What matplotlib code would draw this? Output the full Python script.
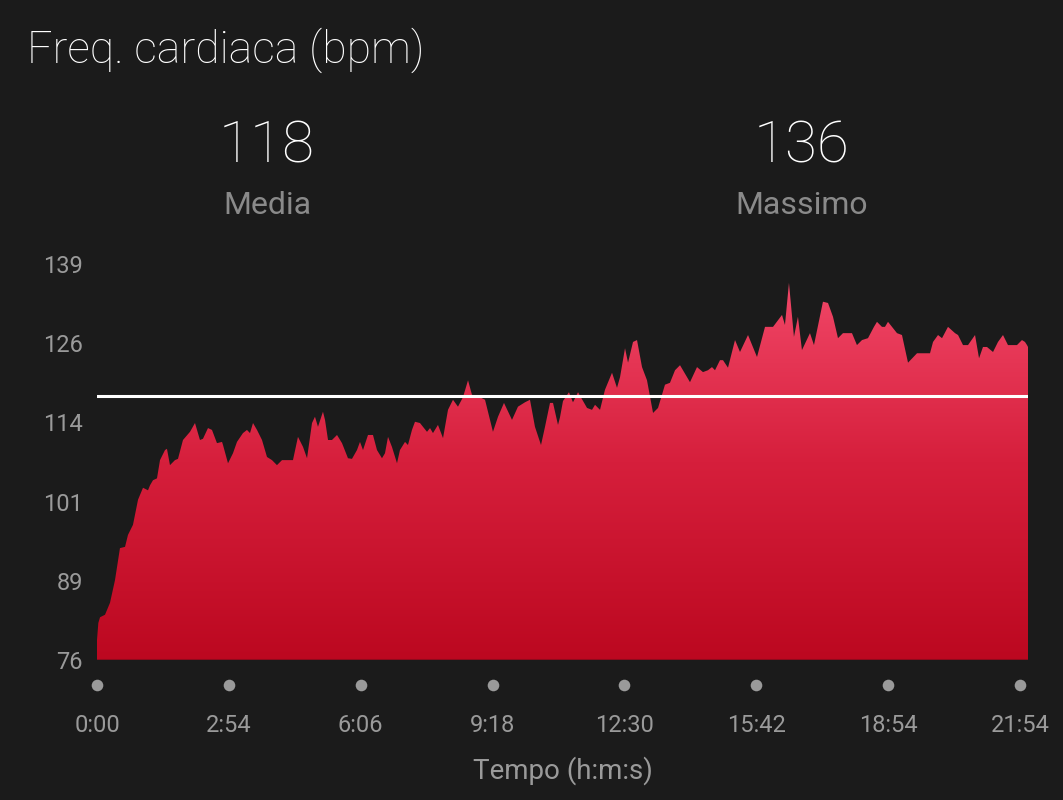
import numpy as np
import matplotlib
matplotlib.use("Agg")
import matplotlib.pyplot as plt
from matplotlib.colors import LinearSegmentedColormap
from matplotlib.transforms import blended_transform_factory

# heart rate samples (seconds, bpm)
tempo_s = [0, 1.9, 4.3, 11.4, 18.5, 25.6, 32.7, 39.9, 44.1, 51.2, 58.4, 65.5, 72.6, 75.5,
           79.7, 85.4, 89.7, 96.8, 99.6, 103.9, 111.0, 115.3, 122.4, 132.4, 139.5, 146.6,
           150.9, 158.0, 163.7, 170.8, 178.0, 179.4, 186.5, 193.6, 199.3, 207.8, 213.5,
           217.8, 222.1, 227.8, 234.9, 242.0, 249.1, 256.2, 263.4, 279.0, 286.1, 293.3,
           299.0, 306.1, 310.3, 314.6, 321.7, 324.6, 328.9, 334.5, 341.7, 348.8, 357.3,
           363.0, 370.1, 374.4, 378.7, 385.8, 392.9, 398.6, 405.7, 410.0, 414.3, 419.9,
           427.1, 431.3, 438.5, 442.7, 448.4, 452.7, 459.8, 469.8, 474.1, 478.3, 485.4,
           492.6, 499.7, 506.8, 513.9, 521.0, 528.2, 533.8, 545.2, 552.4, 563.7, 570.9,
           579.4, 590.8, 599.3, 609.3, 616.4, 623.5, 632.1, 637.8, 644.9, 649.2, 656.3,
           659.1, 663.4, 671.9, 677.6, 684.8, 697.6, 704.7, 709.0, 716.1, 723.2, 733.2,
           740.3, 744.6, 751.7, 756.0, 763.1, 768.8, 775.9, 783.0, 791.6, 798.7, 808.6,
           815.7, 822.9, 830.0, 844.2, 854.2, 862.7, 869.8, 875.5, 879.8, 886.9, 891.2,
           898.3, 908.3, 915.4, 926.8, 939.6, 951.0, 962.4, 975.2, 979.4, 985.1, 992.2,
           997.9, 1003.6, 1015.0, 1020.7, 1033.5, 1040.7, 1047.8, 1054.9, 1062.0, 1074.8,
           1081.9, 1089.1, 1097.6, 1106.1, 1110.4, 1117.5, 1121.8, 1126.1, 1138.9, 1146.0,
           1154.6, 1167.4, 1185.9, 1190.2, 1197.3, 1203.0, 1211.5, 1221.5, 1225.8, 1232.9,
           1240.0, 1250.0, 1255.7, 1261.3, 1267.0, 1275.6, 1282.7, 1289.8, 1296.9, 1309.7,
           1316.8, 1321.1, 1324.0, 1325.4]
bpm = [79.2, 81.9, 82.8, 83.2, 85.1, 88.7, 93.8, 94.0, 95.9, 97.5, 101.5, 103.4, 103.0, 103.8,
       104.6, 104.9, 107.8, 109.4, 109.6, 107.0, 107.8, 108.0, 111.0, 112.3, 113.7, 111.0,
       111.2, 112.9, 112.6, 110.5, 110.7, 110.2, 107.3, 108.9, 110.7, 112.1, 112.6,
       112.1, 113.7, 112.6, 111.0, 108.3, 107.8, 107.0, 107.8, 107.8, 111.5, 109.9,
       108.1, 113.7, 114.7, 113.1, 115.5, 114.2, 111.0, 111.0, 111.8, 110.5, 108.1,
       108.0, 109.4, 110.7, 109.4, 111.8, 111.8, 109.4, 108.1, 108.9, 111.5, 109.9,
       107.3, 109.4, 110.7, 110.2, 112.6, 113.9, 113.7, 112.3, 112.9, 112.1, 113.4,
       111.3, 115.8, 117.4, 116.3, 117.8, 120.5, 118.2, 117.8, 117.4, 112.3, 114.7,
       116.9, 114.2, 116.3, 117.0, 117.4, 113.1, 110.2, 113.1, 116.9, 116.9, 113.4,
       114.6, 117.2, 118.6, 117.0, 118.6, 116.1, 115.8, 116.6, 115.8, 119.0, 121.7,
       119.3, 121.0, 125.6, 123.3, 126.6, 126.9, 122.6, 120.5, 115.3, 116.1, 119.8,
       120.1, 122.1, 122.9, 120.2, 122.6, 121.8, 122.1, 122.6, 122.1, 123.7, 123.7,
       122.5, 126.9, 125.0, 127.7, 124.2, 129.0, 129.0, 130.9, 129.3, 136.0, 127.4,
       130.6, 125.3, 128.0, 126.1, 133.0, 132.8, 130.6, 127.2, 128.0, 128.0,
       126.1, 126.9, 127.2, 129.0, 129.8, 129.0, 129.0, 129.8, 128.0, 127.7,
       123.3, 124.8, 124.8, 126.6, 127.7, 127.2, 129.0, 128.0, 127.7, 126.1,
       126.1, 127.7, 124.0, 125.8, 125.8, 125.0, 126.6, 127.7, 126.1, 126.1,
       126.9, 126.6, 126.1, 125.8]

media = 118
massimo = 136
y_min, y_max = 76, 139
y_tick_labels = ["76", "89", "101", "114", "126", "139"]
x_tick_labels = ["0:00", "2:54", "6:06", "9:18", "12:30", "15:42", "18:54", "21:54"]
x_last_tick = 1314

bg = "#1b1b1b"
grey = "#9a9a9a"

fig = plt.figure(figsize=(10.63, 8), dpi=100, facecolor=bg)
ax = fig.add_axes([97 / 1063, 1 - 660 / 800, (1028 - 97) / 1063, (660 - 264) / 800])
ax.set_facecolor(bg)

t_end = tempo_s[-1]
ax.set_xlim(0, t_end)
ax.set_ylim(y_min, y_max)

# gradient fill clipped to the area under the curve
cmap = LinearSegmentedColormap.from_list("hr", ["#bc0820", "#d61f3c", "#f44b6c"])
grad = np.linspace(0, 1, 256).reshape(-1, 1)
im = ax.imshow(grad, cmap=cmap, extent=[0, t_end, y_min, y_max], origin="lower",
               aspect="auto", zorder=1)
area = ax.fill_between(tempo_s, bpm, y_min, color="none", lw=0)
im.set_clip_path(area.get_paths()[0], transform=ax.transData)
ax.axhline(y_min, color="#8e0a1c", lw=1.5, zorder=2)

# mean line
ax.axhline(media, color="white", lw=2.2, zorder=3)

for s in ax.spines.values():
    s.set_visible(False)

ax.set_yticks(np.linspace(y_min, y_max, 6))
ax.set_yticklabels(y_tick_labels)
xt = np.linspace(0, x_last_tick, len(x_tick_labels))
ax.set_xticks(xt)
ax.set_xticklabels(x_tick_labels)
ax.tick_params(axis="both", length=0, colors=grey, labelsize=17)
ax.tick_params(axis="y", pad=10)
ax.tick_params(axis="x", pad=39)
for lab in ax.get_xticklabels() + ax.get_yticklabels():
    lab.set_fontfamily("Roboto")

# dots under the x axis
tr = blended_transform_factory(ax.transData, ax.transAxes)
ax.scatter(xt, [-25 / 396] * len(xt), s=70, color=grey, transform=tr, clip_on=False, lw=0)

ax.set_xlabel("Tempo (h:m:s)", color=grey, fontsize=20, family="Roboto", labelpad=14)

# header texts
fig.text(27 / 1063, 1 - 50 / 800, "Freq. cardiaca (bpm)", color="white", fontsize=32,
         family="Roboto", fontweight="light", va="center", ha="left")
for xc, val, lab in [(267, media, "Media"), (802, massimo, "Massimo")]:
    fig.text(xc / 1063, 1 - 147 / 800, str(val), color="white", fontsize=42,
             family="Roboto", fontweight="light", ha="center", va="center")
    fig.text(xc / 1063, 1 - 205 / 800, lab, color="#8a8a8a", fontsize=23,
             family="Roboto", ha="center", va="center")

fig.savefig("out.png", dpi=100, facecolor=bg)
